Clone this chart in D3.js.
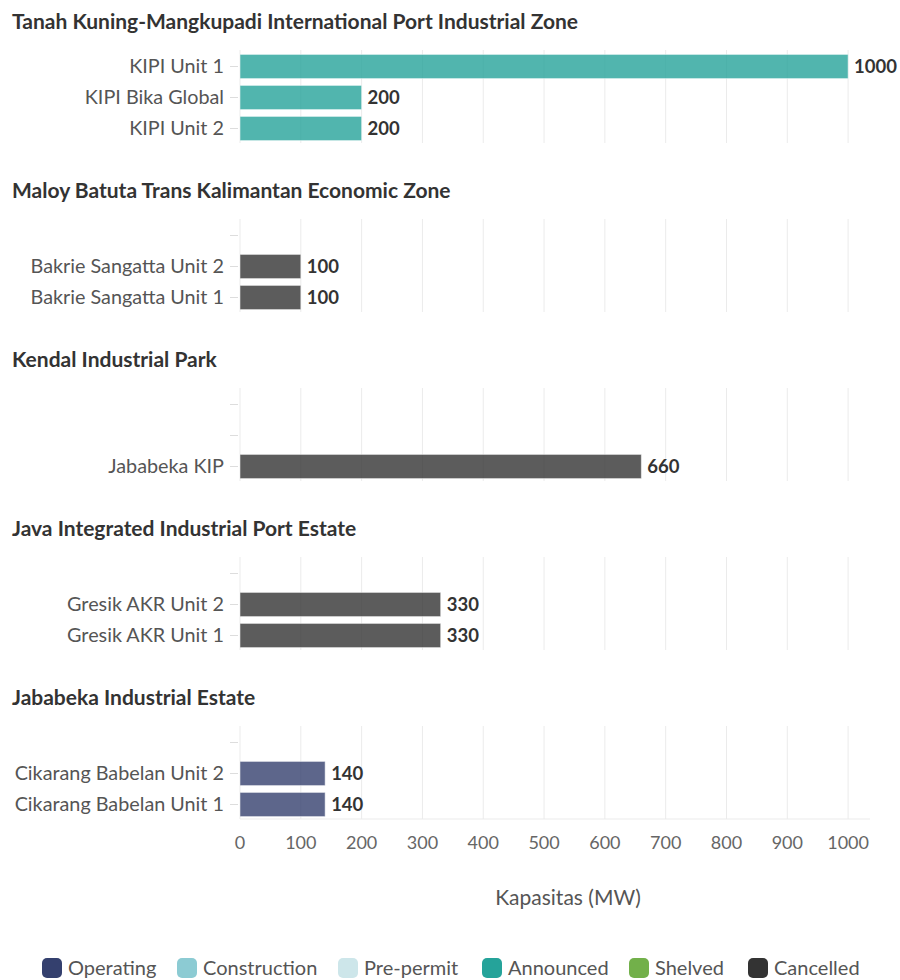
<!doctype html>
<html>
  <head>
    <meta charset="UTF-8">
    <title>Kapasitas</title>
    <script src="https://d3js.org/d3.v7.min.js"></script>
    <style>
      body { margin: 0; background: #fff; font-family: "Source Sans Pro", Lato, "Open Sans", sans-serif; }
      .grid line { stroke: #ebebeb; stroke-width: 1; }
      .ytick line { stroke: #ddd; }
    </style>
  </head>
  <body>
    <svg id="chart" width="900" height="980"></svg>
    <script>
      // Zones (panel titles), in drawing order
      const zones = [
        "Tanah Kuning-Mangkupadi International Port Industrial Zone",
        "Maloy Batuta Trans Kalimantan Economic Zone",
        "Kendal Industrial Park",
        "Java Integrated Industrial Port Estate",
        "Jababeka Industrial Estate"
      ];
      // Units per zone, top to bottom
      const units = [
        ["KIPI Unit 1", "KIPI Bika Global", "KIPI Unit 2"],
        ["Bakrie Sangatta Unit 2", "Bakrie Sangatta Unit 1"],
        ["Jababeka KIP"],
        ["Gresik AKR Unit 2", "Gresik AKR Unit 1"],
        ["Cikarang Babelan Unit 2", "Cikarang Babelan Unit 1"]
      ];
      const capacity = [
        [1000, 200, 200],
        [100, 100],
        [660],
        [330, 330],
        [140, 140]
      ];
      const status = [
        ["Announced", "Announced", "Announced"],
        ["Cancelled", "Cancelled"],
        ["Cancelled"],
        ["Cancelled", "Cancelled"],
        ["Operating", "Operating"]
      ];
      const statusNames = ["Operating", "Construction", "Pre-permit", "Announced", "Shelved", "Cancelled"];
      const statusColors = ["#34406e", "#8ccbd3", "#cde6ea", "#25a39a", "#72b04a", "#333333"];
      const xTicks = [0, 100, 200, 300, 400, 500, 600, 700, 800, 900, 1000];

      const svg = d3.select("#chart");
      const color = d3.scaleOrdinal().domain(statusNames).range(statusColors);

      const left = 240, right = 870;
      const x = d3.scaleLinear().domain([0, 1036]).range([left, right]);

      const slots = 3;
      const panelStep = 169;

      zones.forEach((zone, i) => {
        const top = i * panelStep;
        // pad the top with empty slots so every panel holds 3 rows
        const names = units[i];
        const keys = d3.range(slots - names.length).map(k => "__empty" + k).concat(names);
        const y = d3.scaleBand().domain(keys).range([top + 50, top + 143]).paddingInner(0.22).paddingOuter(0.11);

        const g = svg.append("g");

        g.append("text")
          .attr("x", 12).attr("y", top + 29)
          .attr("font-size", 21).attr("font-weight", "bold").attr("fill", "#333")
          .text(zone);

        // vertical grid
        g.append("g").attr("class", "grid")
          .selectAll("line").data(xTicks).join("line")
          .attr("x1", d => x(d)).attr("x2", d => x(d))
          .attr("y1", top + 50).attr("y2", top + 143);

        // y ticks and labels
        const yt = g.append("g").attr("class", "ytick")
          .selectAll("g").data(keys).join("g")
          .attr("transform", d => `translate(0,${y(d) + y.bandwidth() / 2 + 1})`);
        yt.append("line").attr("x1", left - 10).attr("x2", left - 2);
        yt.append("text")
          .attr("x", left - 16).attr("dy", "0.35em")
          .attr("text-anchor", "end").attr("font-size", 19.8).attr("fill", "#555")
          .text(d => d.startsWith("__empty") ? "" : d);

        const rows = names.map((n, j) => ({ name: n, value: capacity[i][j], status: status[i][j] }));

        g.selectAll("rect").data(rows).join("rect")
          .attr("x", x(0))
          .attr("y", d => y(d.name) + 1)
          .attr("width", d => x(d.value) - x(0))
          .attr("height", y.bandwidth())
          .attr("fill", d => color(d.status))
          .attr("fill-opacity", 0.8)
          .attr("stroke", "#fff").attr("stroke-opacity", 0.5).attr("stroke-width", 1);

        g.selectAll("text.val").data(rows).join("text")
          .attr("class", "val")
          .attr("x", d => x(d.value) + 6)
          .attr("y", d => y(d.name) + y.bandwidth() / 2 + 1)
          .attr("dy", "0.35em")
          .attr("font-size", 18.5).attr("font-weight", "bold").attr("fill", "#333")
          .text(d => d.value);

        if (i === zones.length - 1) {
          const axisY = top + 143;
          g.append("line")
            .attr("x1", left).attr("x2", right)
            .attr("y1", axisY).attr("y2", axisY)
            .attr("stroke", "#ebebeb");
          g.selectAll("text.xt").data(xTicks).join("text")
            .attr("class", "xt")
            .attr("x", d => x(d)).attr("y", axisY + 30)
            .attr("text-anchor", "middle").attr("font-size", 18).attr("fill", "#666")
            .text(d => d);
          g.append("text")
            .attr("x", 568).attr("y", axisY + 86)
            .attr("text-anchor", "middle").attr("font-size", 21).attr("fill", "#555")
            .text("Kapasitas (MW)");
        }
      });

      // legend
      const legendX = [42, 177, 338, 482, 629, 748];
      const lg = svg.append("g").selectAll("g").data(statusNames).join("g")
        .attr("transform", (d, i) => `translate(${legendX[i]},958)`);
      lg.append("rect")
        .attr("width", 20).attr("height", 20).attr("rx", 5)
        .attr("fill", d => color(d));
      lg.append("text")
        .attr("x", 26).attr("y", 10).attr("dy", "0.35em")
        .attr("font-size", 20).attr("fill", "#555")
        .text(d => d);
    </script>
  </body>
</html>
